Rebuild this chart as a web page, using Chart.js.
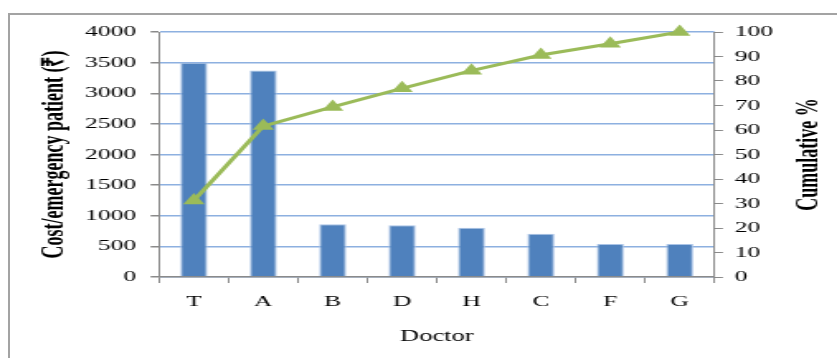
<!DOCTYPE html>
<html>
<head>
<meta charset="utf-8">
<script src="https://cdn.jsdelivr.net/npm/chart.js@4/dist/chart.umd.min.js"></script>
<style>
  html, body { margin: 0; padding: 0; background: #fff; overflow: hidden; }
  body { width: 837px; height: 358px; position: relative; }
  #frame {
    position: absolute; left: 8px; top: 13px; width: 900px; height: 400px;
    border-left: 2px solid #a3a3a3; border-top: 2px solid #a3a3a3;
  }
  /* the chart is drawn narrow and widened horizontally */
  #wrap {
    position: absolute; left: 0; top: 0; width: 507px; height: 358px;
    transform: scaleX(1.651); transform-origin: 0 0;
  }
</style>
</head>
<body>
<div id="frame"></div>
<div id="wrap"><canvas id="c" width="507" height="358"></canvas></div>
<script>
const doctors = ['T', 'A', 'B', 'D', 'H', 'C', 'F', 'G'];
const costPerPatient = [3500, 3370, 860, 845, 805, 705, 540, 540];
const cumulativePct = [31.2, 61.6, 69.4, 77.0, 84.2, 90.6, 95.2, 100];
const costTicks = [0, 500, 1000, 1500, 2000, 2500, 3000, 3500, 4000];
const pctTicks = [0, 10, 20, 30, 40, 50, 60, 70, 80, 90, 100];

const serif = 'Liberation Serif, Times New Roman, serif';
const axisGray = '#8a8a8a';
const titleFont = { family: serif, size: 18, weight: 'bold' };

// Both vertical axis titles, read bottom-to-top
const sideTitles = {
  id: 'sideTitles',
  afterDraw(chart) {
    const ctx = chart.ctx;
    const area = chart.chartArea;
    const midY = (area.top + area.bottom) / 2;
    const draw = (text, x) => {
      ctx.save();
      ctx.translate(x, midY);
      ctx.rotate(-Math.PI / 2);
      ctx.font = `${titleFont.weight} ${titleFont.size}px ${serif}`;
      ctx.fillStyle = '#000';
      ctx.textAlign = 'center';
      ctx.textBaseline = 'middle';
      ctx.fillText(text, 0, 0);
      ctx.restore();
    };
    draw('Cost/emergency patient (₹)', 33.5);
    draw('Cumulative %', 490);
  }
};

new Chart(document.getElementById('c'), {
  data: {
    labels: doctors,
    datasets: [
      {
        type: 'line',
        data: cumulativePct,
        yAxisID: 'yPct',
        borderColor: '#9bbb59',
        backgroundColor: '#9bbb59',
        borderWidth: 3,
        pointStyle: 'triangle',
        pointRadius: 7.5,
        pointBorderWidth: 0,
        clip: 12,
        order: 0
      },
      {
        type: 'bar',
        data: costPerPatient,
        yAxisID: 'yCost',
        backgroundColor: '#4f81bd',
        borderColor: '#a9c3e6',
        borderWidth: 1,
        barPercentage: 0.39,
        categoryPercentage: 1,
        order: 1
      }
    ]
  },
  plugins: [sideTitles],
  options: {
    responsive: false,
    devicePixelRatio: 1,
    animation: false,
    events: [],
    layout: { padding: { left: 0, right: 0, top: 32, bottom: 0 } },
    plugins: { legend: { display: false }, tooltip: { enabled: false } },
    scales: {
      x: {
        position: 'bottom',
        offset: true,
        grid: { offset: true, drawOnChartArea: false, drawTicks: true, tickLength: 6, color: axisGray, lineWidth: 1 },
        border: { color: axisGray, width: 1.5 },
        ticks: { color: '#000', font: { family: serif, size: 15.5 }, padding: 10, maxRotation: 0 },
        title: { display: true, text: 'Doctor', color: '#000', font: { family: serif, size: 16 }, padding: { top: 0, bottom: 12 } },
        afterFit: s => { s.height = 81; }
      },
      yCost: {
        position: 'left',
        min: 0, max: 4000,
        afterBuildTicks: s => { s.ticks = costTicks.map(v => ({ value: v })); },
        grid: { color: '#8db0e0', lineWidth: 1.5, tickColor: axisGray, tickLength: 5.2 },
        border: { color: axisGray, width: 1 },
        ticks: { color: '#000', font: { family: serif, size: 15.5 }, padding: 8.8, callback: v => String(v) },
        title: { display: false },
        afterFit: s => { s.width = 96.4; }
      },
      yPct: {
        position: 'right',
        min: 0, max: 100,
        afterBuildTicks: s => { s.ticks = pctTicks.map(v => ({ value: v })); },
        grid: { drawOnChartArea: false, color: axisGray, tickColor: axisGray, tickLength: 5.2 },
        border: { color: axisGray, width: 1 },
        ticks: { color: '#000', font: { family: serif, size: 15.5 }, padding: 7, callback: v => String(v) },
        title: { display: false },
        afterFit: s => { s.width = 74.3; }
      }
    }
  }
});
</script>
</body>
</html>
